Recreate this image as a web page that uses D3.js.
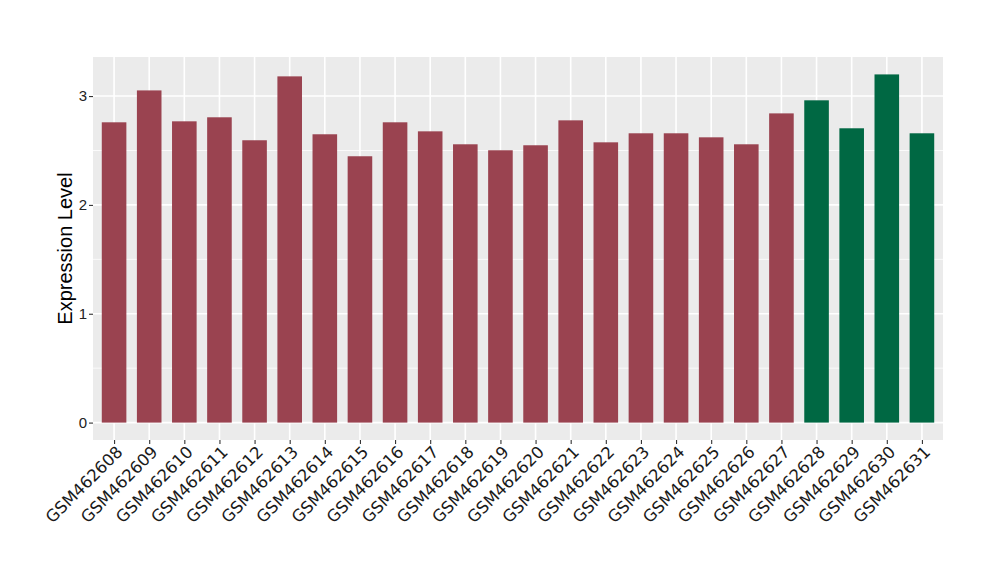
<!DOCTYPE html>
<html>
<head>
<meta charset="utf-8">
<script src="https://cdn.jsdelivr.net/npm/d3@7"></script>
<style>
  html, body { margin: 0; padding: 0; background: #ffffff; }
  svg { display: block; }
</style>
</head>
<body>
<svg id="chart" width="1000" height="580"></svg>
<script>
const samples = ["GSM462608","GSM462609","GSM462610","GSM462611","GSM462612","GSM462613","GSM462614","GSM462615","GSM462616","GSM462617","GSM462618","GSM462619","GSM462620","GSM462621","GSM462622","GSM462623","GSM462624","GSM462625","GSM462626","GSM462627","GSM462628","GSM462629","GSM462630","GSM462631"];
const values = [2.759,3.052,2.768,2.805,2.594,3.181,2.649,2.447,2.759,2.676,2.557,2.502,2.548,2.777,2.575,2.658,2.658,2.621,2.557,2.841,2.961,2.704,3.199,2.658];
const groups = ["A","A","A","A","A","A","A","A","A","A","A","A","A","A","A","A","A","A","A","A","B","B","B","B"];
const groupNames = ["A","B"];
const groupColors = ["#9A4350","#006843"];
const yTicks = [0,1,2,3];
const yMinor = [0.5,1.5,2.5];
const yTitle = "Expression Level";

const svg = d3.select("#chart");
const panel = {left: 93, right: 943, top: 57, bottom: 440};

const ymax = d3.max(values);
const pad = ymax * 0.05;
const y = d3.scaleLinear().domain([-pad, ymax + pad]).range([panel.bottom, panel.top]);
// ggplot discrete expansion: 0.6 units each side
const n = samples.length;
const unit = (panel.right - panel.left) / (n - 1 + 1.2);
const xc = d3.scalePoint().domain(samples).range([panel.left + 0.6*unit, panel.right - 0.6*unit]);
const bw = 0.7 * unit;
const color = d3.scaleOrdinal().domain(groupNames).range(groupColors);

// panel background
svg.append("rect").attr("x", panel.left).attr("y", panel.top)
  .attr("width", panel.right - panel.left).attr("height", panel.bottom - panel.top)
  .attr("fill", "#EBEBEB");

// minor grid
svg.append("g").selectAll("line").data(yMinor).join("line")
  .attr("x1", panel.left).attr("x2", panel.right)
  .attr("y1", d => y(d)).attr("y2", d => y(d))
  .attr("stroke", "#ffffff").attr("stroke-width", 0.8);
// major grid
svg.append("g").selectAll("line").data(yTicks).join("line")
  .attr("x1", panel.left).attr("x2", panel.right)
  .attr("y1", d => y(d)).attr("y2", d => y(d))
  .attr("stroke", "#ffffff").attr("stroke-width", 1.6);
svg.append("g").selectAll("line").data(samples).join("line")
  .attr("x1", d => xc(d)).attr("x2", d => xc(d))
  .attr("y1", panel.top).attr("y2", panel.bottom)
  .attr("stroke", "#ffffff").attr("stroke-width", 1.6);

// bars
svg.append("g").selectAll("rect").data(samples).join("rect")
  .attr("x", d => xc(d) - bw/2)
  .attr("width", bw)
  .attr("y", (d,i) => y(values[i]))
  .attr("height", (d,i) => y(0) - y(values[i]))
  .attr("fill", (d,i) => color(groups[i]));

// y axis
const yAxis = d3.axisLeft(y).tickValues(yTicks).tickSize(4).tickPadding(2).tickFormat(d3.format("d"));
const gy = svg.append("g").attr("transform", `translate(${panel.left},0)`).call(yAxis);
gy.attr("font-size", null).attr("font-family", null);
gy.select(".domain").remove();
gy.selectAll(".tick line").attr("stroke", "#333333").attr("stroke-width", 1.1);
gy.selectAll(".tick text").attr("fill", "#222222")
  .style("font-family", "'Liberation Sans', Arial, sans-serif").style("font-size", "15px");

// x axis
const xAxis = d3.axisBottom(xc).tickSize(4).tickPadding(2);
const gx = svg.append("g").attr("transform", `translate(0,${panel.bottom})`).call(xAxis);
gx.attr("font-size", null).attr("font-family", null);
gx.select(".domain").remove();
gx.selectAll(".tick line").attr("stroke", "#333333").attr("stroke-width", 1.1);
gx.selectAll(".tick text")
  .attr("fill", "#1a1a1a")
  .style("font-family", "'DejaVu Sans', sans-serif").style("font-size", "16.5px")
  .attr("text-anchor", "end")
  .attr("dy", null)
  .attr("x", 0).attr("y", 0)
  .attr("transform", "translate(9,13) rotate(-45)");

// y title
svg.append("text")
  .attr("transform", `translate(72,${(panel.top + panel.bottom)/2}) rotate(-90)`)
  .attr("text-anchor", "middle")
  .style("font-family", "'Liberation Sans', Arial, sans-serif").style("font-size", "20px")
  .attr("fill", "#000000")
  .text(yTitle);
</script>
</body>
</html>
